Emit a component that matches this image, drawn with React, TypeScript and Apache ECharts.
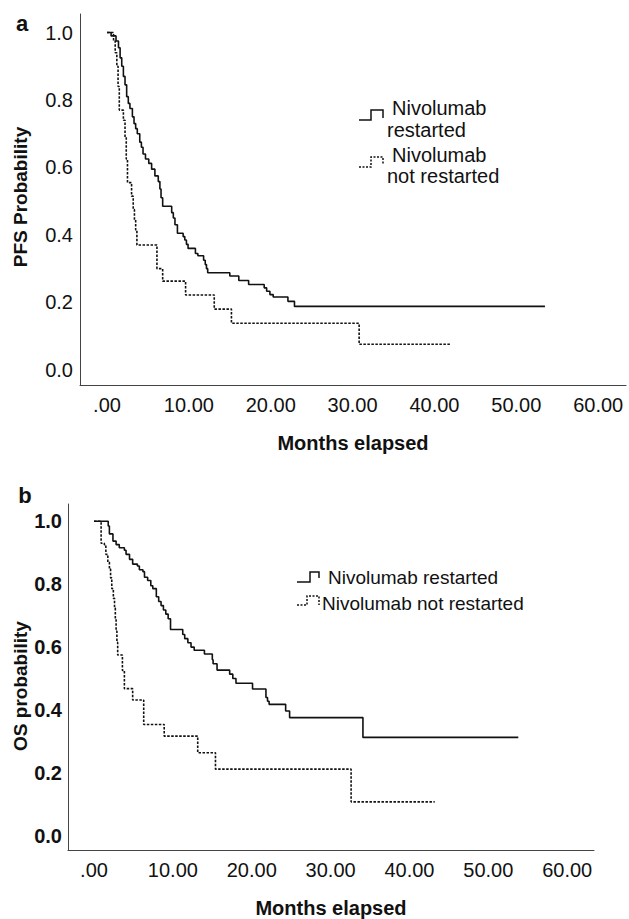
import React, { useEffect, useRef } from "react";
import * as echarts from "echarts";

// ---- data (time in months, survival probability after each step) ----
const groupNames = ["Nivolumab restarted", "Nivolumab not restarted"];
const xTickValues = [0, 10, 20, 30, 40, 50, 60];
const yTickValues = [0, 0.2, 0.4, 0.6, 0.8, 1.0];

const pfsRestarted: [number, number][] = [
  [0, 1.0], [0.5, 0.99], [1.1, 0.975], [1.4, 0.955], [1.6, 0.925], [1.8, 0.9], [2.0, 0.87],
  [2.2, 0.845], [2.4, 0.81], [2.6, 0.79], [2.8, 0.775], [3.1, 0.75], [3.3, 0.73],
  [3.5, 0.715], [3.7, 0.7], [4.0, 0.675], [4.2, 0.66], [4.4, 0.64], [4.7, 0.625],
  [5.1, 0.612], [5.45, 0.595], [5.85, 0.575], [6.26, 0.558], [6.46, 0.536], [6.6, 0.51],
  [6.8, 0.485], [7.9, 0.466], [8.1, 0.45], [8.3, 0.43], [8.6, 0.405], [9.3, 0.395],
  [9.5, 0.385], [9.7, 0.372], [9.9, 0.36], [10.8, 0.345], [11.1, 0.338], [11.8, 0.325],
  [12.0, 0.312], [12.15, 0.3], [12.3, 0.288], [15.0, 0.278], [16.1, 0.265], [17.3, 0.253],
  [19.2, 0.243], [19.5, 0.233], [19.9, 0.223], [20.3, 0.216], [22.1, 0.203], [22.9, 0.188],
  [53.5, 0.188],
];
const pfsNotRestarted: [number, number][] = [
  [0, 1.0], [0.8, 0.975], [1.0, 0.94], [1.2, 0.9], [1.35, 0.84], [1.5, 0.77], [2.0, 0.74],
  [2.2, 0.69], [2.35, 0.625], [2.5, 0.555], [3.0, 0.515], [3.2, 0.475], [3.35, 0.445],
  [3.5, 0.415], [3.65, 0.37], [6.1, 0.3], [6.8, 0.263], [9.6, 0.222], [13.1, 0.18],
  [15.2, 0.138], [30.8, 0.076], [42.0, 0.076],
];
const osRestarted: [number, number][] = [
  [0, 1.0], [1.8, 0.985], [1.95, 0.96], [2.4, 0.937], [2.8, 0.926], [3.2, 0.916],
  [3.85, 0.908], [4.06, 0.895], [4.5, 0.879], [4.9, 0.864], [5.5, 0.858], [5.75, 0.846],
  [6.2, 0.84], [6.4, 0.822], [6.8, 0.812], [7.2, 0.795], [7.45, 0.786], [7.9, 0.76],
  [8.2, 0.745], [8.5, 0.732], [8.8, 0.718], [9.1, 0.705], [9.4, 0.69], [9.7, 0.656],
  [11.25, 0.64], [11.5, 0.627], [11.9, 0.614], [12.3, 0.6], [12.7, 0.59], [14.0, 0.578],
  [15.0, 0.56], [15.1, 0.547], [15.6, 0.527], [17.2, 0.514], [17.6, 0.5], [18.0, 0.485],
  [20.1, 0.467], [21.8, 0.44], [22.0, 0.428], [22.2, 0.418], [24.3, 0.397], [24.8, 0.376],
  [34.1, 0.313], [53.8, 0.313],
];
const osNotRestarted: [number, number][] = [
  [0, 1.0], [0.9, 0.93], [1.3, 0.926], [1.5, 0.895], [1.75, 0.87], [1.95, 0.848],
  [2.1, 0.82], [2.25, 0.786], [2.45, 0.755], [2.6, 0.724], [2.7, 0.69], [2.8, 0.651],
  [2.9, 0.615], [3.0, 0.575], [3.6, 0.526], [3.85, 0.468], [4.9, 0.432], [6.3, 0.354],
  [8.9, 0.317], [13.15, 0.264], [15.4, 0.212], [32.6, 0.108], [43.2, 0.108],
];

const FONT = "'Liberation Sans', Arial, Helvetica, sans-serif";

export default function App() {
  const ref = useRef<HTMLDivElement>(null);
  useEffect(() => {
    if (!ref.current) return;
    const chart = echarts.init(ref.current, null, { renderer: "svg" });

    const xAxisBase = (gridIndex: number, nameGap: number, margin: number) => ({
      type: "value" as const,
      gridIndex,
      min: -3.3,
      max: 63.4,
      name: "Months elapsed",
      nameLocation: "middle" as const,
      nameGap,
      nameTextStyle: { fontFamily: FONT, fontSize: 20, fontWeight: "bold", color: "#111" },
      axisLine: { show: true, onZero: false, lineStyle: { color: "#444", width: 1 } },
      axisTick: { show: false },
      splitLine: { show: false },
      axisLabel: {
        customValues: xTickValues,
        formatter: (v: number) => (v === 0 ? ".00" : v.toFixed(2)),
        fontFamily: FONT,
        fontSize: 20,
        color: "#111",
        margin,
      },
    });
    const yAxisBase = (gridIndex: number, bold: boolean, margin: number) => ({
      type: "value" as const,
      gridIndex,
      min: -0.045,
      max: 1.055,
      axisLine: { show: true, onZero: false, lineStyle: { color: "#444", width: 1 } },
      axisTick: { show: false },
      splitLine: { show: false },
      axisLabel: {
        customValues: yTickValues,
        formatter: (v: number) => v.toFixed(1),
        fontFamily: FONT,
        fontSize: 20,
        fontWeight: bold ? "bold" : "normal",
        color: "#111",
        margin,
      },
    });

    const seriesFor = (data: [number, number][], idx: number, dotted: boolean, name: string) => ({
      type: "line" as const,
      name,
      xAxisIndex: idx,
      yAxisIndex: idx,
      data,
      step: "end" as const,
      showSymbol: false,
      symbol: "none",
      lineStyle: { color: "#111", width: 1.6, type: dotted ? [2.5, 1.5] : "solid" },
    });

    const txt = (x: number, y: number, text: string, size: number, weight = "normal", rotation = 0, align = "left") => ({
      type: "text" as const,
      x,
      y,
      rotation,
      style: {
        text,
        fill: "#111",
        font: `${weight} ${size}px ${FONT}`,
        textAlign: align,
        textVerticalAlign: "middle",
      },
    });
    const stepIcon = (pts: number[][], dotted: boolean) => ({
      type: "polyline" as const,
      shape: { points: pts },
      style: { stroke: "#111", lineWidth: 1.5, fill: null, lineDash: dotted ? [2, 1.5] : null },
    });

    const [a1, a2] = groupNames[0].split(/ (.+)/);
    const [b1, b2] = groupNames[1].split(/ (.+)/);

    chart.setOption({
      animation: false,
      backgroundColor: "#fff",
      grid: [
        { left: 80, top: 14, width: 546, height: 371 },
        { left: 68, top: 504, width: 526, height: 353 },
      ],
      xAxis: [xAxisBase(0, 48, 10), xAxisBase(1, 48, 10)],
      yAxis: [yAxisBase(0, false, 7), yAxisBase(1, true, 6)],
      series: [
        seriesFor(pfsRestarted, 0, false, groupNames[0]),
        seriesFor(pfsNotRestarted, 0, true, groupNames[1]),
        seriesFor(osRestarted, 1, false, groupNames[0]),
        seriesFor(osNotRestarted, 1, true, groupNames[1]),
      ],
      graphic: [
        txt(22, 23, "a", 22, "bold", 0, "center"),
        txt(25, 495, "b", 22, "bold", 0, "center"),
        txt(20, 197, "PFS Probability", 19, "bold", Math.PI / 2, "center"),
        txt(20, 686, "OS probability", 19, "bold", Math.PI / 2, "center"),
        // legend a
        stepIcon([[359, 120], [371, 120], [371, 110], [383, 110], [383, 118]], false),
        txt(392, 108, a1, 20),
        txt(387, 130, a2, 20),
        stepIcon([[359, 167], [371, 167], [371, 157], [383, 157], [383, 165]], true),
        txt(392, 155, b1, 20),
        txt(387, 176, b2, 20),
        // legend b
        stepIcon([[297, 582], [310, 582], [310, 572], [319, 572], [319, 578]], false),
        txt(328, 577, groupNames[0], 19),
        stepIcon([[297, 605], [307, 605], [307, 596], [319, 596], [319, 605]], true),
        txt(322, 603, groupNames[1], 19),
      ],
    });
    return () => chart.dispose();
  }, []);
  return (
    <div
      ref={ref}
      style={{ position: "absolute", left: 0, top: 0, width: 629, height: 919, background: "#fff" }}
    />
  );
}
